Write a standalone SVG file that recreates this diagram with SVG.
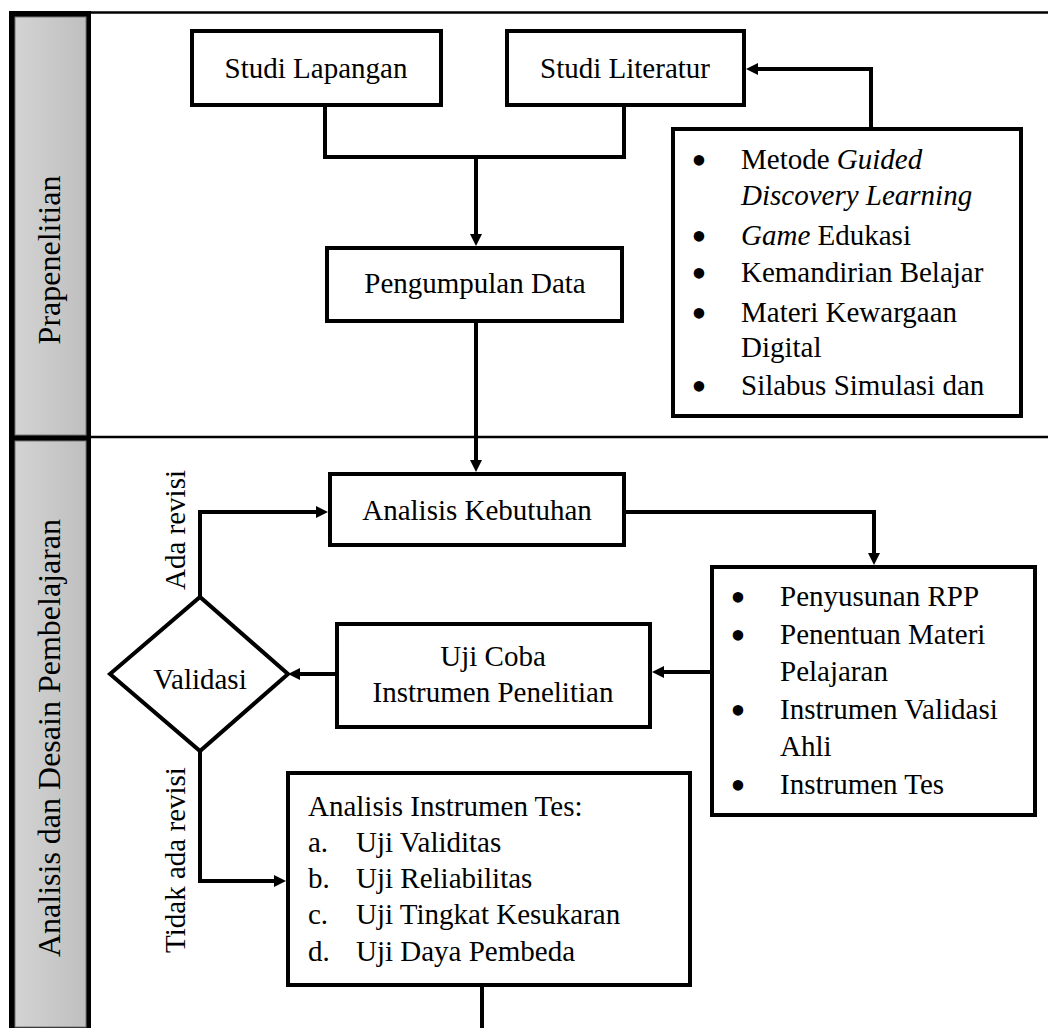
<svg xmlns="http://www.w3.org/2000/svg" width="1048" height="1028" viewBox="0 0 1048 1028">
<style>
text{font-family:"Liberation Serif","Times New Roman",serif;font-size:29px;fill:#000}
.lane{font-size:32px}
.box{fill:#fff;stroke:#000;stroke-width:4}
.ln{fill:none;stroke:#000;stroke-width:4}
.sep{stroke:#000;stroke-width:2.5}
.c{text-anchor:middle}
.i{font-style:italic}
.b{font-size:44px;text-anchor:middle}
</style>
<defs>
<linearGradient id="g" x1="0" y1="0" x2="1" y2="0">
<stop offset="0" stop-color="#d3d3d3"/>
<stop offset="1" stop-color="#bfbfbf"/>
</linearGradient>
<marker id="ah" viewBox="0 0 12 12" refX="8" refY="6" markerWidth="12" markerHeight="12" markerUnits="userSpaceOnUse" orient="auto">
<path d="M0,0 L12,6 L0,12 z" fill="#000"/>
</marker>
</defs>
<rect width="1048" height="1028" fill="#fff"/>
<g id="lanes">
<rect x="9" y="11" width="82" height="1017" fill="#000"/>
<rect x="15" y="17" width="71" height="418" fill="url(#g)" stroke="#777" stroke-width="1"/>
<rect x="15" y="441" width="71" height="586" fill="url(#g)" stroke="#777" stroke-width="1"/>
<line class="sep" x1="91" y1="12.5" x2="1048" y2="12.5"/>
<line class="sep" x1="91" y1="437" x2="1048" y2="437"/>
<text class="lane c" transform="translate(60,260) rotate(-90)">Prapenelitian</text>
<text class="lane c" transform="translate(60,738) rotate(-90)">Analisis dan Desain Pembelajaran</text>
</g>
<g id="connectors">
<polyline class="ln" points="325,107 325,157 624,157 624,107"/>
<line class="ln" x1="476" y1="157" x2="476" y2="242" marker-end="url(#ah)"/>
<line class="ln" x1="476" y1="323" x2="476" y2="468" marker-end="url(#ah)"/>
<polyline class="ln" points="871,127 871,69 750,69" marker-end="url(#ah)"/>
<polyline class="ln" points="200,597 200,512 324,512" marker-end="url(#ah)"/>
<polyline class="ln" points="626,512 874,512 874,561" marker-end="url(#ah)"/>
<line class="ln" x1="710" y1="672" x2="656" y2="672" marker-end="url(#ah)"/>
<line class="ln" x1="335" y1="674" x2="292" y2="674" marker-end="url(#ah)"/>
<polyline class="ln" points="200,751 200,881 282,881" marker-end="url(#ah)"/>
<line class="ln" x1="482" y1="987" x2="482" y2="1028"/>
<text class="c" transform="translate(185,530) rotate(-90)">Ada revisi</text>
<text class="c" transform="translate(185,860) rotate(-90)">Tidak ada revisi</text>
</g>
<g id="studi-lapangan">
<rect class="box" x="192" y="31" width="249" height="74"/>
<text class="c" x="316" y="78">Studi Lapangan</text>
</g>
<g id="studi-literatur">
<rect class="box" x="507" y="31" width="237" height="74"/>
<text class="c" x="625" y="78">Studi Literatur</text>
</g>
<g id="pengumpulan-data">
<rect class="box" x="327" y="248" width="295" height="73"/>
<text class="c" x="475" y="293">Pengumpulan Data</text>
</g>
<g id="metode">
<rect class="box" x="673" y="129" width="348" height="287"/>
<text class="b" x="699" y="175">•</text>
<text x="741" y="169">Metode <tspan class="i">Guided</tspan></text>
<text class="i" x="741" y="205">Discovery Learning</text>
<text class="b" x="699" y="251">•</text>
<text x="741" y="245"><tspan class="i">Game</tspan> Edukasi</text>
<text class="b" x="699" y="288">•</text>
<text x="741" y="282">Kemandirian Belajar</text>
<text class="b" x="699" y="328">•</text>
<text x="741" y="322">Materi Kewargaan</text>
<text x="741" y="357">Digital</text>
<text class="b" x="699" y="401">•</text>
<text x="741" y="395">Silabus Simulasi dan</text>
</g>
<g id="analisis-kebutuhan">
<rect class="box" x="330" y="474" width="294" height="71"/>
<text class="c" x="477" y="520">Analisis Kebutuhan</text>
</g>
<g id="penyusunan">
<rect class="box" x="712" y="567" width="323" height="248"/>
<text class="b" x="738" y="612">•</text>
<text x="780" y="606">Penyusunan RPP</text>
<text class="b" x="738" y="650">•</text>
<text x="780" y="644">Penentuan Materi</text>
<text x="780" y="681">Pelajaran</text>
<text class="b" x="738" y="725">•</text>
<text x="780" y="719">Instrumen Validasi</text>
<text x="780" y="756">Ahli</text>
<text class="b" x="738" y="800">•</text>
<text x="780" y="794">Instrumen Tes</text>
</g>
<g id="uji-coba">
<rect class="box" x="337" y="624" width="313" height="103"/>
<text class="c" x="493" y="666">Uji Coba</text>
<text class="c" x="493" y="702">Instrumen Penelitian</text>
</g>
<g id="validasi">
<polygon class="box" points="110,674 200,597 288,674 200,751"/>
<text class="c" x="200" y="689">Validasi</text>
</g>
<g id="analisis-instrumen">
<rect class="box" x="288" y="773" width="402" height="212"/>
<text x="308" y="816">Analisis Instrumen Tes:</text>
<text x="308" y="852">a.</text><text x="356" y="852">Uji Validitas</text>
<text x="308" y="888">b.</text><text x="356" y="888">Uji Reliabilitas</text>
<text x="308" y="924">c.</text><text x="356" y="924">Uji Tingkat Kesukaran</text>
<text x="308" y="961">d.</text><text x="356" y="961">Uji Daya Pembeda</text>
</g>
</svg>
